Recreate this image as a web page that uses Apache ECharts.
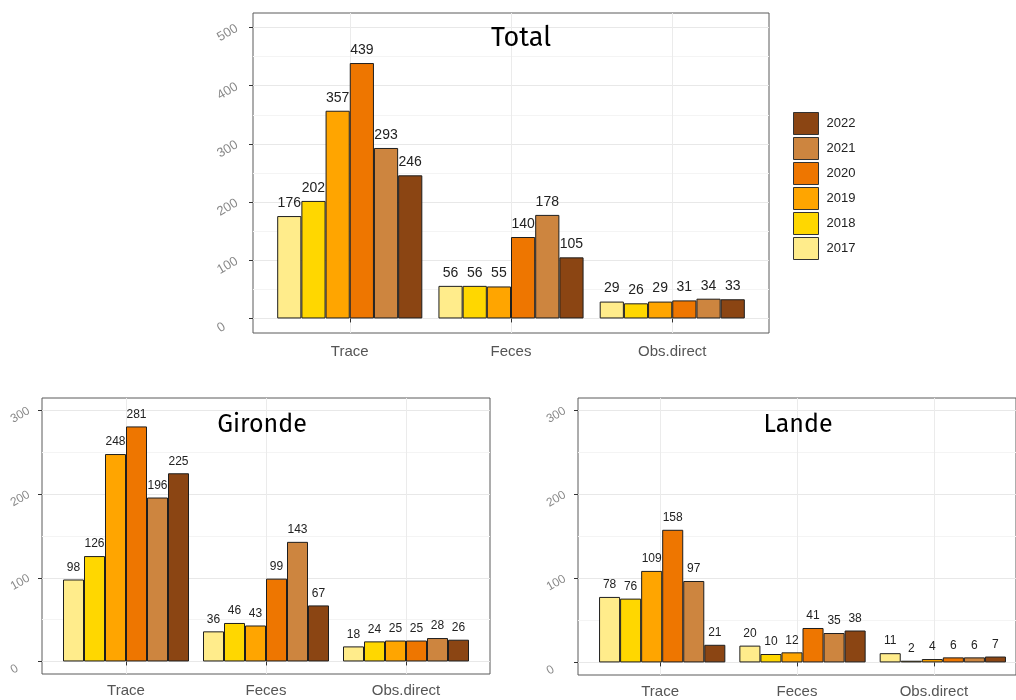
<!DOCTYPE html>
<html>
<head>
<meta charset="utf-8">
<script src="https://cdn.jsdelivr.net/npm/echarts@6/dist/echarts.min.js"></script>
<style>html,body{margin:0;padding:0;background:#fff}#c{width:1016px;height:700px}</style>
</head>
<body>
<div id="c"></div>
<script>
// ---- data ----
const categories = ['Trace', 'Feces', 'Obs.direct'];
const years = ['2017', '2018', '2019', '2020', '2021', '2022'];
const yearColors = ['#FFEC8B', '#FFD700', '#FFA500', '#EE7600', '#CD853F', '#8B4513'];

const totalTrace = [176, 202, 357, 439, 293, 246];
const totalFeces = [56, 56, 55, 140, 178, 105];
const totalObs = [29, 26, 29, 31, 34, 33];

const girondeTrace = [98, 126, 248, 281, 196, 225];
const girondeFeces = [36, 46, 43, 99, 143, 67];
const girondeObs = [18, 24, 25, 25, 28, 26];

const landeTrace = [78, 76, 109, 158, 97, 21];
const landeFeces = [20, 10, 12, 41, 35, 38];
const landeObs = [11, 2, 4, 6, 6, 7];

const totalTicks = [0, 100, 200, 300, 400, 500];
const totalMinorTicks = [50, 150, 250, 350, 450];
const regionTicks = [0, 100, 200, 300];
const regionMinorTicks = [50, 150, 250];

// ---- layout ----
const panels = [
  { title: 'Total', values: [totalTrace, totalFeces, totalObs],
    box: { left: 253, top: 13, width: 516, height: 320 }, min: -25, max: 525,
    ticks: totalTicks, minor: totalMinorTicks,
    barLabelSize: 14, yLabelSize: 13, yMargin: 41, yPad: 6, xMargin: 11,
    titlePos: [521, 38], titleSize: 27 },
  { title: 'Gironde', values: [girondeTrace, girondeFeces, girondeObs],
    box: { left: 42, top: 398, width: 448, height: 276 }, min: -15, max: 315,
    ticks: regionTicks, minor: regionMinorTicks,
    barLabelSize: 12, yLabelSize: 12, yMargin: 36, yPad: 5, xMargin: 9,
    titlePos: [262, 425], titleSize: 25 },
  { title: 'Lande', values: [landeTrace, landeFeces, landeObs],
    box: { left: 578, top: 398, width: 449, height: 277 }, min: -15, max: 315,
    ticks: regionTicks, minor: regionMinorTicks,
    barLabelSize: 12, yLabelSize: 12, yMargin: 36, yPad: 5, xMargin: 9,
    titlePos: [798, 425], titleSize: 25 }
];

const grid = [], xAxis = [], yAxis = [], series = [], graphic = [];
const labelFont = '"Liberation Sans", Arial, sans-serif';

panels.forEach((p) => {
  const b = p.box;
  const unit = b.width / 3.2;
  // frame grid
  const fg = grid.length;
  grid.push({ left: b.left, top: b.top, width: b.width, height: b.height,
    show: true, borderColor: '#5a5a5a', borderWidth: 1, backgroundColor: 'transparent' });
  // data grid (inset like ggplot discrete expansion)
  const dg = grid.length;
  grid.push({ left: b.left + 0.1 * unit, top: b.top, width: b.width - 0.2 * unit, height: b.height });

  xAxis.push({ gridIndex: fg, type: 'value', min: 0.4, max: 3.6, position: 'bottom',
    axisLine: { show: false },
    axisTick: { show: true, customValues: [1, 2, 3], length: 4, lineStyle: { color: '#333' } },
    axisLabel: { show: true, customValues: [1, 2, 3], margin: p.xMargin, fontSize: 15, color: '#555',
      fontFamily: labelFont, formatter: (v) => categories[Math.round(v) - 1] },
    splitLine: { show: true, lineStyle: { color: '#EBEBEB', width: 1 } } });
  const dx = xAxis.length;
  xAxis.push({ gridIndex: dg, type: 'category', data: categories, show: false });

  yAxis.push({ gridIndex: fg, type: 'value', min: p.min, max: p.max, position: 'left',
    axisLine: { show: false },
    axisTick: { show: true, customValues: p.ticks, length: 4, lineStyle: { color: '#333' } },
    axisLabel: { show: true, customValues: p.ticks, rotate: 30, align: 'left', verticalAlign: 'top',
      padding: [p.yPad, 0, 0, 0], margin: p.yMargin, fontSize: p.yLabelSize, color: '#888',
      fontFamily: labelFont },
    splitLine: { show: true, lineStyle: { color: '#E8E8E8', width: 1 } } });
  yAxis.push({ gridIndex: fg, type: 'value', min: p.min, max: p.max, position: 'left',
    axisLine: { show: false }, axisLabel: { show: false },
    axisTick: { show: false, customValues: p.minor },
    splitLine: { show: true, lineStyle: { color: '#F4F4F4', width: 1 } } });
  const dy = yAxis.length;
  yAxis.push({ gridIndex: dg, type: 'value', min: p.min, max: p.max, show: false });

  years.forEach((yr, i) => {
    series.push({
      name: yr, type: 'bar', xAxisIndex: dx, yAxisIndex: dy,
      data: p.values.map((arr) => arr[i]),
      barGap: '0%', barCategoryGap: '10%',
      itemStyle: { color: yearColors[i], borderColor: '#1e1e1e', borderWidth: 1 },
      label: { show: true, position: 'top', distance: 6, fontSize: p.barLabelSize,
        color: '#222', fontFamily: labelFont },
      emphasis: { disabled: true }, animation: false
    });
  });

  graphic.push({ type: 'text', x: p.titlePos[0], y: p.titlePos[1], z: 100,
    style: { text: p.title, align: 'center', verticalAlign: 'middle', fontSize: p.titleSize,
      fill: '#000', fontFamily: '"Fira Sans", "Noto Sans", sans-serif' } });
});

const chart = echarts.init(document.getElementById('c'), null, { renderer: 'canvas' });
chart.setOption({
  animation: false,
  backgroundColor: '#fff',
  grid, xAxis, yAxis, series, graphic,
  legend: {
    data: years.slice().reverse(), orient: 'vertical', left: 793, top: 112, padding: 0,
    itemWidth: 25, itemHeight: 22, itemGap: 2, icon: 'rect', selectedMode: false,
    itemStyle: { borderColor: '#333', borderWidth: 1 },
    textStyle: { fontSize: 13, color: '#222', fontFamily: labelFont, padding: [0, 0, 0, 3] }
  }
});
</script>
</body>
</html>
